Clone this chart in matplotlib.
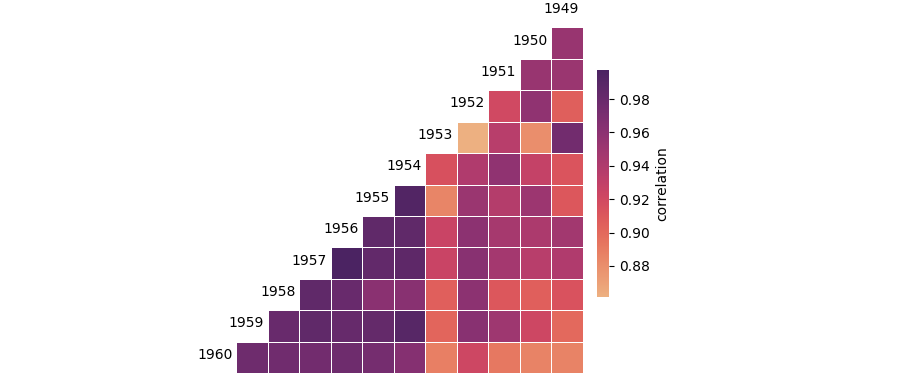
import numpy as np
import matplotlib
matplotlib.use("Agg")
import matplotlib.pyplot as plt
import seaborn as sns

years = [1949, 1950, 1951, 1952, 1953, 1954, 1955, 1956, 1957, 1958, 1959, 1960]

# correlation of each year with earlier years (ordered 1949 .. year-1)
r1950 = [0.953]
r1951 = [0.952, 0.953]
r1952 = [0.906, 0.958, 0.920]
r1953 = [0.975, 0.880, 0.935, 0.8614]
r1954 = [0.912, 0.928, 0.958, 0.940, 0.915]
r1955 = [0.910, 0.951, 0.937, 0.952, 0.885, 0.993]
r1956 = [0.947, 0.942, 0.945, 0.960, 0.925, 0.985, 0.985]
r1957 = [0.940, 0.935, 0.946, 0.962, 0.925, 0.986, 0.984, 0.9974]
r1958 = [0.913, 0.905, 0.910, 0.960, 0.905, 0.962, 0.961, 0.980, 0.985]
r1959 = [0.900, 0.922, 0.950, 0.962, 0.902, 0.990, 0.982, 0.981, 0.985, 0.980]
r1960 = [0.886, 0.886, 0.892, 0.922, 0.888, 0.964, 0.973, 0.977, 0.975, 0.976, 0.977]

rows = [[], r1950, r1951, r1952, r1953, r1954, r1955, r1956, r1957, r1958, r1959, r1960]

n = len(years)
# columns displayed in reverse year order (1960 left ... 1949 right)
col_years = years[::-1]
mat = np.full((n, n), np.nan)
for i, vals in enumerate(rows):
    for k, v in enumerate(vals):
        cy = years[k]
        j = col_years.index(cy)
        mat[i, j] = v
mask = np.isnan(mat)

fig = plt.figure(figsize=(9.04, 3.78), dpi=100)
ax = fig.add_axes([205 / 904, 5 / 378, 378 / 904, 377 / 378])
cax = fig.add_axes([597 / 904, 81 / 378, 12 / 904, 227 / 378])

cmap = sns.color_palette("flare", as_cmap=True)
sns.heatmap(mat, mask=mask, cmap=cmap, linewidths=0.5, linecolor="white",
            square=False, ax=ax, cbar_ax=cax,
            cbar_kws={"label": "correlation"})
ax.set_xticks([])
ax.set_yticks([])
ax.set_xlabel("")
ax.set_ylabel("")
for s in ax.spines.values():
    s.set_visible(False)
cax.tick_params(labelsize=10)
for s in cax.spines.values():
    s.set_visible(False)

for i, y in enumerate(years):
    j = col_years.index(y)
    ax.text(j + 0.87, i + 0.42, str(y), ha="right", va="center", fontsize=10)

fig.savefig("out.png", dpi=100)
